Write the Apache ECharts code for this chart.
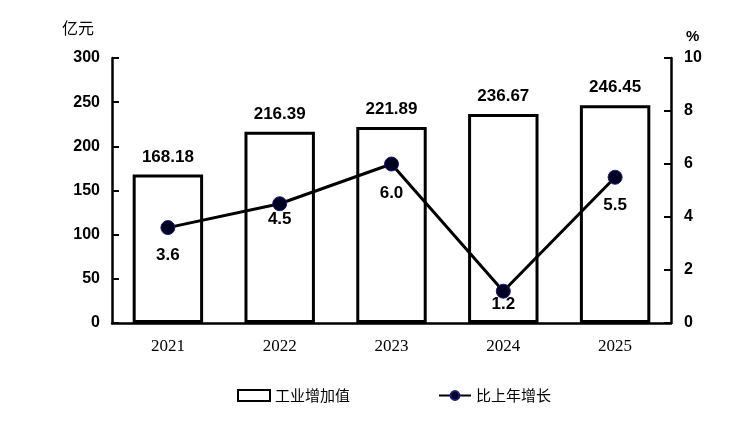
<!DOCTYPE html>
<html>
<head>
<meta charset="utf-8">
<script src="https://cdn.jsdelivr.net/npm/echarts@6/dist/echarts.min.js"></script>
<style>
  html, body { margin: 0; padding: 0; background: #fff; }
  #chart { width: 754px; height: 436px; }
</style>
</head>
<body>
<div id="chart"></div>
<script>
const years = ['2021', '2022', '2023', '2024', '2025'];
const addedValue = [168.18, 216.39, 221.89, 236.67, 246.45];
const growth = [3.6, 4.5, 6.0, 1.2, 5.5];
const leftTicks = [0, 50, 100, 150, 200, 250, 300];
const rightTicks = [0, 2, 4, 6, 8, 10];
// gap between each growth point and its label
const growthLabelGap = [12, 0, 13, -3, 12];

const chart = echarts.init(document.getElementById('chart'));

const axisText = {
  fontFamily: 'Liberation Sans, Arial, sans-serif',
  fontWeight: 'bold',
  fontSize: 16,
  color: '#000',
};

const valueLabel = {
  fontFamily: 'Liberation Sans, Arial, sans-serif',
  fontWeight: 'bold',
  fontSize: 17,
  color: '#000',
};

const option = {
  animation: false,
  grid: { left: 112, right: 83, top: 58, bottom: 113 },
  legend: {
    bottom: 28,
    left: 232,
    itemGap: 88,
    itemWidth: 32,
    itemHeight: 11,
    textStyle: {
      fontFamily: 'Noto Sans CJK SC',
      fontSize: 15,
      color: '#000',
    },
    data: [
      { name: '工业增加值', icon: 'rect' },
      { name: '比上年增长' },
    ],
  },
  xAxis: {
    type: 'category',
    data: years,
    axisLine: { lineStyle: { color: '#000', width: 2.5 } },
    axisTick: { inside: true, length: 6, lineStyle: { color: '#000', width: 2 } },
    axisLabel: {
      margin: 15,
      fontFamily: 'Liberation Serif, Times New Roman, serif',
      fontSize: 17,
      color: '#000',
    },
  },
  yAxis: [
    {
      type: 'value',
      min: 0,
      max: 300,
      interval: 50,
      name: '亿元',
      nameGap: 18,
      nameTextStyle: {
        fontFamily: 'Noto Sans CJK SC',
        fontSize: 16,
        color: '#000',
        align: 'right',
        padding: [0, 18, 4, 0],
      },
      axisLine: { show: true, lineStyle: { color: '#000', width: 2.5 } },
      axisTick: { show: true, inside: true, length: 7, lineStyle: { color: '#000', width: 2 } },
      axisLabel: Object.assign({ margin: 12, formatter: (v) => (leftTicks.includes(v) ? v : '') }, axisText),
      splitLine: { show: false },
    },
    {
      type: 'value',
      min: 0,
      max: 10,
      interval: 2,
      name: '%',
      nameGap: 14,
      nameTextStyle: Object.assign({}, axisText, { fontSize: 15, align: 'left', padding: [0, 0, 0, 15] }),
      axisLine: { show: true, lineStyle: { color: '#000', width: 2.5 } },
      axisTick: { show: true, inside: true, length: 7, lineStyle: { color: '#000', width: 2 } },
      axisLabel: Object.assign({ margin: 13, formatter: (v) => (rightTicks.includes(v) ? v : '') }, axisText),
      splitLine: { show: false },
    },
  ],
  series: [
    {
      name: '工业增加值',
      type: 'bar',
      yAxisIndex: 0,
      data: addedValue,
      barWidth: '63%',
      itemStyle: { color: '#fff', borderColor: '#000', borderWidth: 3 },
      label: Object.assign({
        show: true,
        position: 'top',
        distance: 9,
        formatter: (p) => p.value.toFixed(2),
      }, valueLabel),
    },
    {
      name: '比上年增长',
      type: 'line',
      yAxisIndex: 1,
      z: 3,
      data: growth.map((v, i) => ({ value: v, label: { distance: growthLabelGap[i] } })),
      symbol: 'circle',
      symbolSize: 14,
      lineStyle: { color: '#000', width: 3 },
      itemStyle: { color: '#000022', borderColor: '#1a1a80', borderWidth: 1 },
      label: Object.assign({
        show: true,
        position: 'bottom',
        formatter: (p) => p.value.toFixed(1),
      }, valueLabel),
    },
  ],
};

chart.setOption(option);
</script>
</body>
</html>
